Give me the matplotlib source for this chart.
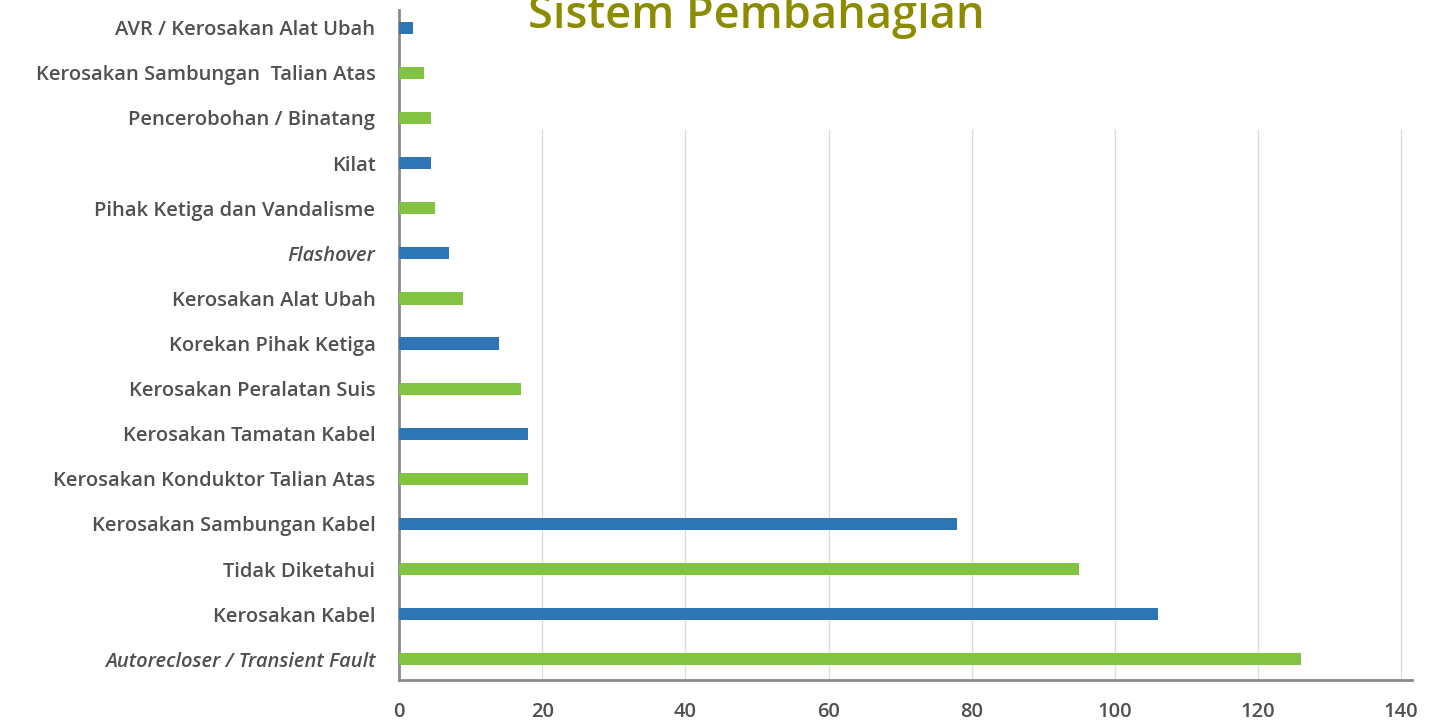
import matplotlib.pyplot as plt

# data, bottom to top
categories = ["Autorecloser / Transient Fault", "Kerosakan Kabel", "Tidak Diketahui",
              "Kerosakan Sambungan Kabel", "Kerosakan Konduktor Talian Atas",
              "Kerosakan Tamatan Kabel", "Kerosakan Peralatan Suis", "Korekan Pihak Ketiga",
              "Kerosakan Alat Ubah", "Flashover", "Pihak Ketiga dan Vandalisme", "Kilat",
              "Pencerobohan / Binatang", "Kerosakan Sambungan  Talian Atas",
              "AVR / Kerosakan Alat Ubah"]
values = [126, 106, 95, 78, 18, 18, 17, 14, 9, 7, 5, 4.5, 4.5, 3.5, 2]
italic_labels = ["Autorecloser / Transient Fault", "Flashover"]
xticks = [0, 20, 40, 60, 80, 100, 120, 140]

green = "#82c341"
blue = "#2e75b6"
colors = [green, blue, green, blue, green, blue, green, blue,
          green, blue, green, blue, green, green, blue]

plt.rcParams["font.family"] = ["Open Sans", "DejaVu Sans"]
fig = plt.figure(figsize=(14.49, 7.25), dpi=100)
ax = fig.add_axes([0.2754, 0.062, 0.699, 0.924])

ypos = list(range(len(values)))
ax.barh(ypos, values, height=0.27, color=colors, zorder=3)

ax.set_xlim(0, 141.5)
ax.set_ylim(-0.46, 14.39)
# vertical grid lines only in the lower part
ax.vlines(xticks[1:], -0.46, 11.75, color="#dcdcdc", linewidth=1, zorder=1)

ax.set_xticks(xticks)
ax.set_yticks(ypos)
ax.set_yticklabels(categories)
for lab in ax.get_yticklabels():
    if lab.get_text() in italic_labels:
        lab.set_style("italic")
ax.tick_params(axis="y", length=0, pad=17, labelsize=14.5, labelcolor="#505050")
ax.tick_params(axis="x", length=0, pad=16, labelsize=14.5, labelcolor="#505050")
for lab in ax.get_yticklabels() + ax.get_xticklabels():
    lab.set_fontweight("semibold")

for s in ["top", "right"]:
    ax.spines[s].set_visible(False)
for s in ["left", "bottom"]:
    ax.spines[s].set_color("#8a8a8a")
    ax.spines[s].set_linewidth(2)

# title sits partly above the top edge, as in the original slide
fig.text(0.522, 0.961, "Sistem Pembahagian", ha="center", va="baseline",
         fontsize=32.5, fontweight="semibold", color="#8c8c00")

fig.savefig("out.png", dpi=100)
